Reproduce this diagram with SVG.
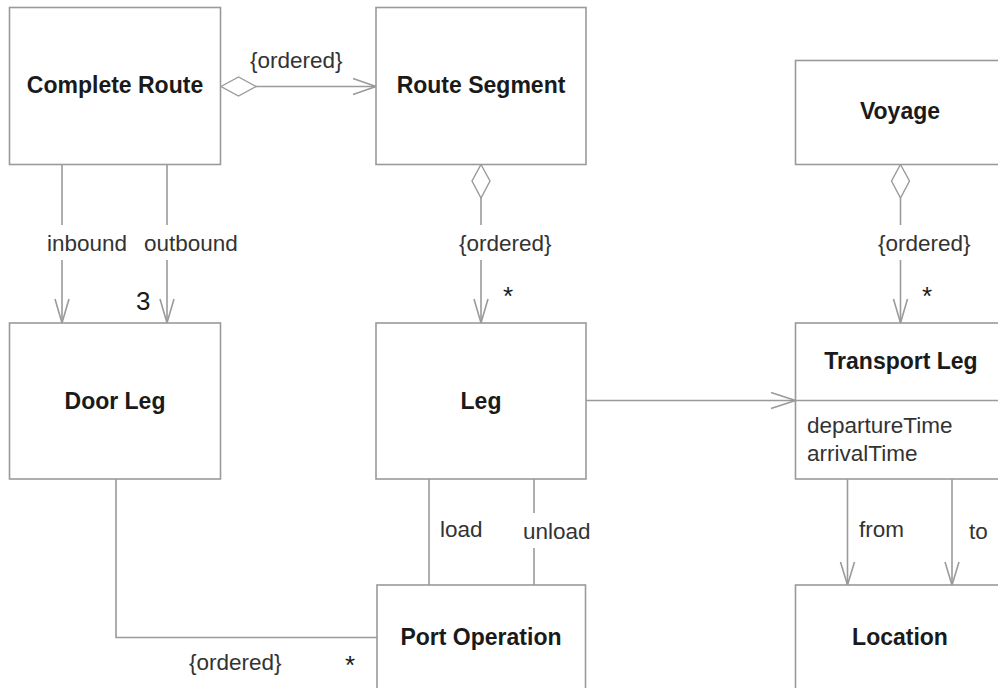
<svg xmlns="http://www.w3.org/2000/svg" width="998" height="688" viewBox="0 0 998 688">
<style>
.box{fill:#fff;stroke:#9a9a9a;stroke-width:1.6}
.ln{fill:none;stroke:#9a9a9a;stroke-width:1.6}
.dia{fill:#fff;stroke:#9a9a9a;stroke-width:1.4}
.t{font-family:"Liberation Sans",Arial,sans-serif;font-weight:bold;font-size:23px;fill:#1a1a1a;text-anchor:middle}
.l{font-family:"Liberation Sans",Arial,sans-serif;font-size:22.5px;fill:#333}
.m{font-family:"Liberation Sans",Arial,sans-serif;font-size:26px;fill:#1a1a1a}
</style>
<rect width="998" height="688" fill="#fff"/>
<g id="connectors">
  <!-- Complete Route to Route Segment -->
  <line class="ln" x1="256" y1="86.5" x2="376" y2="86.5"/>
  <polygon class="dia" points="221,86.5 238.5,77 256,86.5 238.5,96"/>
  <polyline class="ln" points="353,78.5 376,86.5 353,94.5"/>
  <text class="l" x="250" y="68">{ordered}</text>
  <!-- inbound -->
  <line class="ln" x1="62" y1="164" x2="62" y2="225"/>
  <line class="ln" x1="62" y1="260" x2="62" y2="323"/>
  <polyline class="ln" points="55,299 62,323 69,299"/>
  <text class="l" x="47" y="251">inbound</text>
  <!-- outbound -->
  <line class="ln" x1="167" y1="164" x2="167" y2="225"/>
  <line class="ln" x1="167" y1="260" x2="167" y2="323"/>
  <polyline class="ln" points="160,299 167,323 174,299"/>
  <text class="l" x="144" y="251">outbound</text>
  <text class="m" x="136" y="310">3</text>
  <!-- Route Segment to Leg -->
  <polygon class="dia" points="481,164.5 490,181 481,198 472,181"/>
  <line class="ln" x1="481" y1="198" x2="481" y2="225"/>
  <line class="ln" x1="481" y1="260" x2="481" y2="323"/>
  <polyline class="ln" points="474,299 481,323 488,299"/>
  <text class="l" x="459" y="251">{ordered}</text>
  <text class="m" x="503" y="305">*</text>
  <!-- Voyage to Transport Leg -->
  <polygon class="dia" points="900.5,164.5 909.5,181 900.5,198 891.5,181"/>
  <line class="ln" x1="900.5" y1="198" x2="900.5" y2="225"/>
  <line class="ln" x1="900.5" y1="260" x2="900.5" y2="323"/>
  <polyline class="ln" points="893.5,299 900.5,323 907.5,299"/>
  <text class="l" x="878" y="251">{ordered}</text>
  <text class="m" x="922" y="305">*</text>
  <!-- Leg to Transport Leg -->
  <line class="ln" x1="586" y1="400.5" x2="795.5" y2="400.5"/>
  <polyline class="ln" points="771,392.5 795.5,400.5 771,408.5"/>
  <!-- Door Leg to Port Operation -->
  <polyline class="ln" points="116,479 116,637.5 377,637.5"/>
  <text class="l" x="189" y="670">{ordered}</text>
  <text class="m" x="345" y="674">*</text>
  <!-- load / unload -->
  <line class="ln" x1="429" y1="479" x2="429" y2="585"/>
  <text class="l" x="440" y="537">load</text>
  <line class="ln" x1="534" y1="479" x2="534" y2="513"/>
  <line class="ln" x1="534" y1="548" x2="534" y2="585"/>
  <text class="l" x="523" y="539">unload</text>
  <!-- from / to -->
  <line class="ln" x1="847.5" y1="479" x2="847.5" y2="585"/>
  <polyline class="ln" points="840.5,562 847.5,585 854.5,562"/>
  <text class="l" x="859" y="537">from</text>
  <line class="ln" x1="952" y1="479" x2="952" y2="585"/>
  <polyline class="ln" points="945,562 952,585 959,562"/>
  <text class="l" x="969" y="539">to</text>
</g>
<g id="complete-route">
  <rect class="box" x="9.5" y="7.5" width="211" height="157"/>
  <text class="t" x="115" y="93">Complete Route</text>
</g>
<g id="route-segment">
  <rect class="box" x="376" y="7.5" width="210" height="157"/>
  <text class="t" x="481" y="93">Route Segment</text>
</g>
<g id="voyage">
  <rect class="box" x="795.5" y="60.5" width="220" height="104"/>
  <text class="t" x="900" y="119">Voyage</text>
</g>
<g id="door-leg">
  <rect class="box" x="9.5" y="323" width="211" height="156"/>
  <text class="t" x="115" y="409">Door Leg</text>
</g>
<g id="leg">
  <rect class="box" x="376" y="323" width="210" height="156"/>
  <text class="t" x="481" y="409">Leg</text>
</g>
<g id="transport-leg">
  <rect class="box" x="795.5" y="323" width="220" height="156"/>
  <line class="ln" x1="795.5" y1="400.5" x2="998" y2="400.5"/>
  <text class="t" x="901" y="369">Transport Leg</text>
  <text class="l" x="807" y="433">departureTime</text>
  <text class="l" x="807" y="461">arrivalTime</text>
</g>
<g id="port-operation">
  <rect class="box" x="377" y="585" width="208.5" height="120"/>
  <text class="t" x="481" y="645">Port Operation</text>
</g>
<g id="location">
  <rect class="box" x="795.5" y="585" width="220" height="120"/>
  <text class="t" x="900" y="645">Location</text>
</g>
</svg>
